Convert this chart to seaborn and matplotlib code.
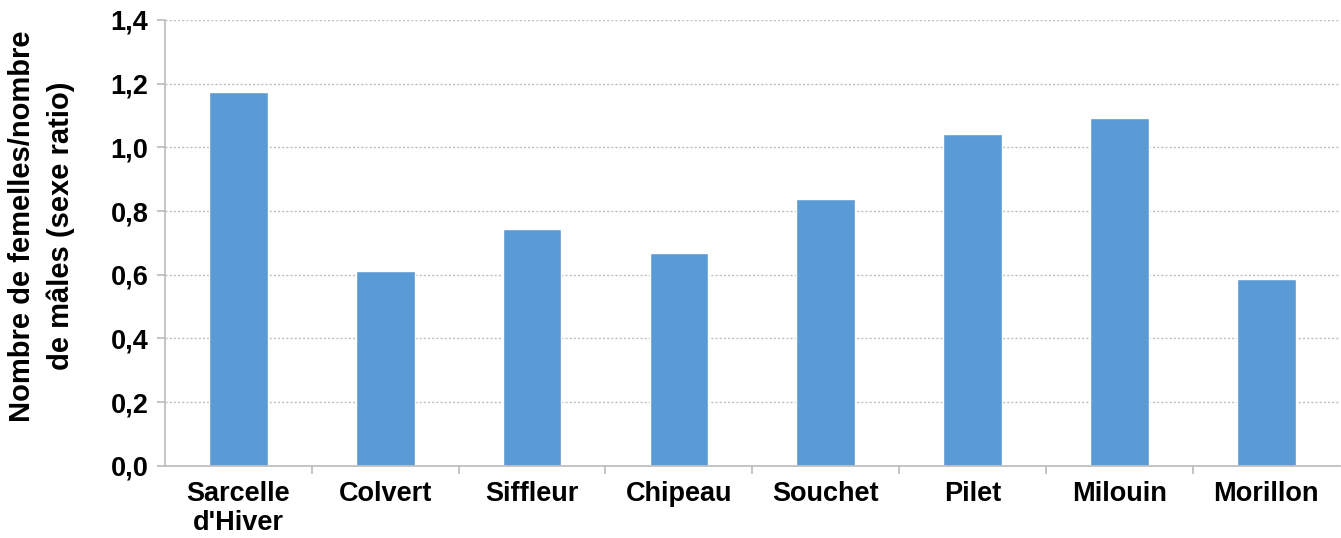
import matplotlib
matplotlib.use("Agg")
import matplotlib.pyplot as plt
import seaborn as sns
import pandas as pd
import numpy as np
from matplotlib.ticker import FixedLocator, FuncFormatter

categories = ["Sarcelle\nd'Hiver", "Colvert", "Siffleur", "Chipeau", "Souchet", "Pilet", "Milouin", "Morillon"]
values = [1.174, 0.612, 0.744, 0.669, 0.838, 1.042, 1.092, 0.587]
yticks = [0.0, 0.2, 0.4, 0.6, 0.8, 1.0, 1.2, 1.4]

sns.set_theme(style="white")
plt.rcParams['font.family'] = ['Liberation Sans', 'DejaVu Sans']
plt.rcParams['text.color'] = 'black'
plt.rcParams['axes.labelcolor'] = 'black'
plt.rcParams['xtick.color'] = 'black'
plt.rcParams['ytick.color'] = 'black'

df = pd.DataFrame({"cat": categories, "val": values})

fig = plt.figure(figsize=(13.41, 5.38), dpi=100)
ax = fig.add_axes([0.123, 0.134, 0.876, 0.829])
sns.barplot(data=df, x="cat", y="val", color="#5B9BD5", width=0.4, saturation=1, ax=ax)

ax.set_ylim(0, 1.4)
ax.set_xlim(-0.5, len(categories) - 0.5)
ax.set_yticks(yticks)
ax.yaxis.set_major_formatter(FuncFormatter(lambda v, p: f"{v:.1f}".replace(".", ",")))
ax.yaxis.grid(True, color="#BFBFBF", linestyle=(0, (1.5, 1.5)), linewidth=1)
ax.set_axisbelow(True)

for s in ["top", "right"]:
    ax.spines[s].set_visible(False)
for s in ["left", "bottom"]:
    ax.spines[s].set_color("#BFBFBF")
    ax.spines[s].set_linewidth(1.3)

ax.tick_params(axis="y", which="major", left=True, length=6, color="#BFBFBF", labelcolor="black",
               width=1.3, labelsize=19.5, pad=6)
ax.tick_params(axis="x", which="major", bottom=True, length=0, labelcolor="black", labelsize=19.5, pad=11)
ax.xaxis.set_minor_locator(FixedLocator(np.arange(0.5, len(categories) - 0.5, 1.0)))
ax.tick_params(axis="x", which="minor", bottom=True, length=6, color="#BFBFBF", width=1.3)

for lab in ax.get_xticklabels() + ax.get_yticklabels():
    lab.set_fontweight("bold")
for lab in ax.get_xticklabels():
    lab.set_linespacing(1.15)

ax.set_xlabel("")
ax.set_ylabel("Nombre de femelles/nombre\nde mâles (sexe ratio)", fontsize=21, fontweight="bold",
              color="black", linespacing=1.45)
ax.yaxis.set_label_coords(-0.0765, 0.538)

fig.savefig("out.png", dpi=100)
